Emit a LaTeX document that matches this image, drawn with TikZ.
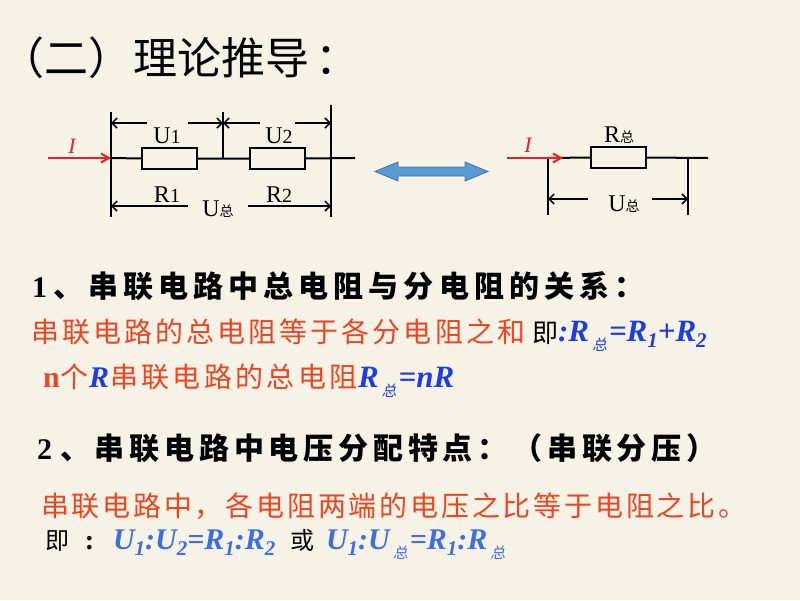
\documentclass[tikz,border=0pt]{standalone}
\usepackage{fontspec}
\setmainfont{Liberation Serif}
\newfontfamily\cjk{Noto Sans CJK SC}
\newfontfamily\cjkit{Noto Sans CJK SC}[FakeSlant=0.2]
\usetikzlibrary{arrows.meta}
\definecolor{bg}{HTML}{F6F3E6}
\definecolor{txtred}{HTML}{EE4422}
\definecolor{arrred}{HTML}{E8231E}
\definecolor{fblue}{HTML}{1E3CE6}
\definecolor{fblue2}{HTML}{3C6EE6}
\definecolor{dafill}{HTML}{5B9BD5}
\definecolor{daline}{HTML}{41719C}
\newcommand\fs[1]{\fontsize{#1}{#1}\selectfont}
\newcommand\ls[1]{\addfontfeature{LetterSpace=#1}}
\newcommand\sbd[1]{\raisebox{-6pt}{\fs{21}#1}}
\newcommand\sbz{\hspace{3pt}\raisebox{-9pt}{\normalfont\cjkit\fs{15}总}\hspace{2pt}}
\tikzset{
  res/.style={draw, line width=2pt, minimum width=55pt, minimum height=21pt},
  wire/.style={line width=2pt},
  vline/.style={line width=2.2pt},
  dim/.style={line width=1.5pt, -{Straight Barb[length=5pt,width=10pt]}},
  redarrow/.style={arrred, line width=2pt, -{Straight Barb[length=8pt,width=9pt]}},
  clabel/.style={anchor=base, font=\fs{24}},
  ilabel/.style={anchor=base, font=\fs{22}\itshape, text=arrred},
  txt/.style={anchor=base west}
}
\begin{document}
\begin{tikzpicture}[x=1pt,y=-1pt, every node/.style={inner sep=0pt,outer sep=0pt}]
\fill[bg] (0,0) rectangle (800,600);
\useasboundingbox (0,0) rectangle (800,600);

% title
\node[txt] (title) at (0,74) {\cjk\fs{44}（二）\hspace{2pt}理论推导\hspace{6pt}：};

% ---- circuit 1
\coordinate (aT) at (111,112); \coordinate (aB) at (111,217); \coordinate (aW) at (111,158);
\coordinate (bT) at (223,112); \coordinate (bW) at (223,158);
\coordinate (cT) at (331,105); \coordinate (cB) at (331,217);
\coordinate (wE) at (355,158);
\coordinate (iS) at (48,158);
\node[res] (R1) at (169.5,158.5) {};
\node[res] (R2) at (277,158.5) {};
\draw[wire] (aW) -- (R1.west) (R1.east) -- (R2.west) (R2.east) -- (wE);
\draw[vline] (aT) -- (aB) (bT) -- (bW) (cT) -- (cB);
\draw[redarrow] (iS) -- (aW);
\node[ilabel] (I1) at (72,153) {I};
\coordinate (u1a) at (147,123); \coordinate (u1b) at (188,123);
\coordinate (u2a) at (260,123); \coordinate (u2b) at (295,123);
\coordinate (uta) at (188,206); \coordinate (utb) at (248,206);
\draw[dim] (u1a) -- (aT |- u1a);
\draw[dim] (u1b) -- (bT |- u1b);
\draw[dim] (u2a) -- (bT |- u2a);
\draw[dim] (u2b) -- (cT |- u2b);
\draw[dim] (uta) -- (aT |- uta);
\draw[dim] (utb) -- (cT |- utb);
\node[clabel] (LU1) at (167,143) {U{\fs{20}1}};
\node[clabel] (LU2) at (279,143) {U{\fs{20}2}};
\node[clabel] (LR1) at (167,202) {R{\fs{20}1}};
\node[clabel] (LR2) at (279,202) {R{\fs{20}2}};
\node[clabel] (LUT) at (218,216) {U{\cjk\fs{14}总}};

% ---- double arrow
\filldraw[fill=dafill, draw=daline, line width=0.8pt]
  (375,171.5) -- (398,162) -- (398,167) -- (465,167) -- (465,162) -- (488,171.5)
  -- (465,181) -- (465,176) -- (398,176) -- (398,181) -- cycle;

% ---- circuit 2
\coordinate (dW) at (548,158); \coordinate (dB) at (548,215);
\coordinate (eW) at (688,158); \coordinate (eB) at (688,215);
\coordinate (w2E) at (708,158);
\coordinate (i2S) at (507,158); \coordinate (i2E) at (563,158);
\node[res] (RT) at (618,157.5) {};
\draw[wire] (dW) -- (RT.west) (RT.east) -- (w2E);
\draw[vline] (dW) -- (dB) (eW) -- (eB);
\draw[redarrow] (i2S) -- (i2E);
\node[ilabel] (I2) at (528,152) {I};
\node[clabel] (LRT) at (619,142) {R{\cjk\fs{14}总}};
\coordinate (v1) at (588,199); \coordinate (v2) at (652,199);
\draw[dim] (v1) -- (dW |- v1);
\draw[dim] (v2) -- (eW |- v2);
\node[clabel] (LUT2) at (624,211) {U{\cjk\fs{14}总}};

% ---- text lines
\node[txt] (l1) at (32,297) {\fs{30}\bfseries 1\hspace{6pt}{\cjk\ls{17}、串联电路中总电阻与分电阻的关系：}};

\node[txt, text=txtred] (l2a) at (31,342) {\cjk\fs{28}\ls{11}串联电路的总电阻等于各分电阻之和};
\node[txt] (l2b) at (532,342) {\cjk\fs{26}即};
\node[txt, text=fblue] (l2c) at (558,341) {\fs{31}\bfseries\itshape :R\sbz=R\sbd{1}+R\sbd{2}};

\node[txt, text=txtred] (l3a) at (43,387) {\fs{30}\bfseries n};
\node[txt, text=txtred] (l3b) at (60,387) {\cjk\fs{28}个};
\node[txt, text=fblue] (l3c) at (89,387) {\fs{30}\bfseries\itshape R};
\node[txt, text=txtred] (l3d) at (110,387) {\cjk\fs{28}\ls{12}串联电路的总电阻};
\node[txt, text=fblue] (l3e) at (358,387) {\fs{31}\bfseries\itshape R\sbz=nR};

\node[txt] (l4) at (37,459) {\fs{30}\bfseries 2\hspace{8pt}{\cjk\ls{16}、串联电路中电压分配特点：（串联分压）}};

\node[txt, text=txtred] (l5) at (41,516) {\cjk\fs{28}\ls{10}串联电路中，各电阻两端的电压之比等于电阻之比。};

\node[txt] (l6a) at (45,549) {\cjk\fs{24}即};
\node[anchor=base] (l6b) at (89.5,549) {\fs{28}\bfseries :};
\node[txt, text=fblue2] (l6c) at (113,549) {\fs{30}\bfseries\itshape U\sbd{1}:U\sbd{2}=R\sbd{1}:R\sbd{2}};
\node[txt] (l6d) at (290,549) {\cjk\fs{24}或};
\node[txt, text=fblue2] (l6e) at (326,549) {\fs{30}\bfseries\itshape U\sbd{1}:U\sbz=R\sbd{1}:R\sbz};
\end{tikzpicture}
\end{document}
